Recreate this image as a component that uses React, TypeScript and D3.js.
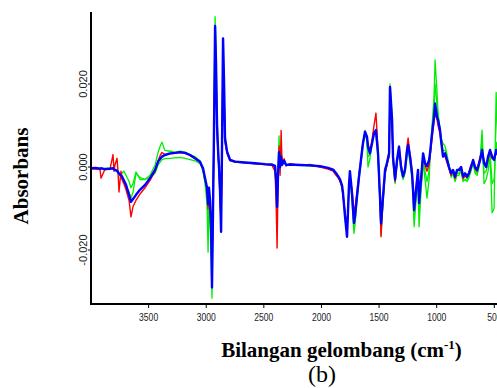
import React from "react";
import * as d3 from "d3";

// wavenumber (cm-1) grid
const wavenumbers = [
  4000, 3960, 3922, 3913, 3880, 3835, 3809, 3800, 3792, 3774,
  3766, 3757, 3740, 3731, 3715, 3696, 3670, 3653, 3635, 3609,
  3575, 3531, 3488, 3444, 3418, 3400, 3384, 3358, 3314, 3271,
  3227, 3184, 3141, 3097, 3054, 3028, 3010, 2993, 2984, 2976,
  2967, 2958, 2950, 2941, 2932, 2923, 2915, 2906, 2897, 2889,
  2880, 2871, 2863, 2854, 2845, 2837, 2819, 2793, 2750, 2663,
  2576, 2490, 2429, 2403, 2394, 2385, 2377, 2368, 2359, 2350,
  2342, 2324, 2307, 2273, 2186, 2099, 2012, 1943, 1899, 1873,
  1856, 1839, 1821, 1813, 1795, 1778, 1761, 1753, 1735, 1718,
  1709, 1692, 1674, 1657, 1640, 1622, 1605, 1596, 1579, 1561,
  1544, 1527, 1509, 1492, 1483, 1466, 1448, 1431, 1413, 1405,
  1387, 1379, 1361, 1344, 1327, 1309, 1292, 1275, 1257, 1248,
  1231, 1214, 1205, 1196, 1179, 1162, 1153, 1136, 1118, 1101,
  1084, 1066, 1058, 1040, 1023, 1014, 997, 988, 971, 962,
  945, 927, 910, 893, 875, 858, 841, 823, 806, 788,
  771, 754, 736, 719, 702, 684, 667, 649, 632, 623,
  606, 589, 571, 554, 537, 519, 502, 484, 467,
];

// absorbance values in units of 0.001
const greenWide = [
  -0.2, -0.3, -0.2, -0.5, -0.3, -0.2, -0.4, -0.5, -0.5, -0.8,
  -1.0, -1.5, -2.0, -2.8, -3.5, -4.5, -6.0, -7.5, -6.0, -1.5,
  -2.5, -3.0, -2.0, 0.5, 3.5, 5.0, 6.0, 4.0, 3.8, 3.6,
  3.8, 3.6, 3.0, 2.5, 1.5, -1.0, -4.0, -9.0, -20.5, -8.0,
  -14.0, -22.0, -31.6, -12.0, 14.0, 36.2, 28.0, 12.0, 5.0, -1.0,
  -8.0, -13.0, 6.0, 28.0, 18.0, 6.0, 3.5, 1.8, 1.4, 1.1,
  0.9, 0.7, 0.5, 0.0, -5.0, -13.0, -1.0, 7.5, -1.0, 4.0,
  1.0, 1.2, 0.4, 0.5, 0.5, 0.3, 0.1, -0.3, -0.8, -1.8,
  -2.5, -3.2, -4.8, -6.5, -11.0, -15.0, -4.5, -2.0, -8.0, -16.0,
  -14.0, -8.0, -3.0, 1.0, 5.0, 8.8, 6.0, 0.0, 2.0, 6.0,
  8.5, 8.0, 2.0, -9.0, -16.4, -9.0, -2.0, 0.5, 4.0, 20.0,
  12.0, 1.0, -4.0, 1.0, 4.0, -1.0, -3.0, -1.5, 3.0, 4.0,
  1.0, -3.0, -8.0, -14.4, -8.0, -3.0, -14.4, -6.0, 1.0, -3.0,
  -7.5, -3.0, 2.0, 10.0, 17.0, 25.8, 18.0, 13.0, 9.0, 7.0,
  5.7, 5.0, 3.0, 0.5, -2.5, -1.5, -3.5, -2.0, -2.0, -1.0,
  -3.5, -3.0, -3.5, -2.5, -1.0, 1.0, -1.5, -2.0, 0.0, 2.0,
  8.9, -4.0, -3.0, -1.0, 3.0, -11.0, -10.0, 18.0, 2.0,
];

const greenMid = [
  -0.4, -0.3, -0.5, -0.4, -0.6, -0.5, -0.4, -0.7, -0.8, -1.0,
  -1.3, -1.8, -2.5, -1.5, -1.0, -2.0, -3.5, -5.0, -4.0, -1.2,
  -3.0, -3.0, -2.5, -1.5, 0.5, 1.2, 1.8, 2.0, 2.1, 2.2,
  2.3, 2.1, 1.8, 1.5, 0.8, -0.8, -3.5, -7.0, -15.0, -7.0,
  -10.0, -18.0, -26.0, -8.0, 12.0, 32.0, 23.0, 9.0, 3.0, -0.5,
  -6.5, -14.5, 4.0, 29.0, 19.0, 6.5, 3.5, 1.6, 1.2, 1.0,
  0.8, 0.6, 0.5, 0.2, -4.0, -11.0, -3.0, 5.0, 1.0, 3.0,
  0.6, 1.2, 0.5, 0.5, 0.4, 0.3, 0.1, -0.3, -0.8, -1.6,
  -2.3, -3.1, -4.6, -6.5, -12.5, -16.0, -5.0, -1.5, -7.0, -14.0,
  -12.5, -7.5, -2.5, 1.5, 5.5, 8.0, 6.5, 2.5, 3.0, 6.0,
  8.5, 8.5, 3.0, -8.0, -15.0, -8.0, -1.0, 1.0, 3.5, 18.0,
  11.0, 2.0, -3.5, 1.5, 4.5, -0.5, -2.5, -1.0, 3.5, 4.5,
  2.0, -2.0, -6.5, -12.0, -7.0, -2.0, -11.0, -4.5, 2.0, -1.0,
  -3.5, -1.0, 2.5, 9.0, 14.0, 20.0, 15.0, 12.0, 9.0, 7.0,
  4.0, 4.0, 2.0, 0.0, -2.0, -1.0, -3.0, -1.5, -1.5, -0.5,
  -3.0, -2.0, -3.0, -2.0, -0.5, 1.5, -1.0, -1.5, 0.5, 1.5,
  6.0, -1.5, -1.0, 1.0, 3.5, -4.0, -3.0, 6.0, 2.5,
];

const redSeries = [
  -0.4, -0.5, -0.6, -2.7, -0.6, -0.5, 3.0, -1.0, 0.5, 2.1,
  -1.0, -6.0, -1.0, -3.0, -4.0, -5.5, -8.0, -12.0, -9.5, -8.0,
  -6.5, -5.0, -3.2, -1.0, 1.5, 2.8, 3.5, 3.0, 3.2, 3.3,
  3.5, 3.3, 2.8, 2.0, 1.2, -0.5, -3.0, -5.5, -10.0, -6.0,
  -9.0, -16.0, -25.0, -9.0, 8.0, 30.0, 22.0, 8.0, 3.0, -1.0,
  -7.0, -14.0, 3.0, 27.0, 18.0, 6.0, 3.2, 1.5, 1.2, 1.0,
  0.8, 0.6, 0.4, -1.0, -8.0, -19.5, -4.0, 5.0, -2.0, 8.8,
  1.0, 2.0, 0.3, 0.8, 0.4, 0.6, 0.0, -0.5, -1.0, -2.0,
  -2.5, -3.5, -5.0, -7.0, -11.0, -15.0, -5.0, -2.0, -5.5, -10.4,
  -10.0, -6.0, -1.5, 2.0, 6.0, 8.0, 7.0, 5.5, 4.0, 6.5,
  10.0, 13.0, 4.0, -8.0, -16.8, -8.0, -1.5, 0.5, 2.5, 17.0,
  10.0, 2.0, -3.5, 1.0, 5.0, 0.5, -2.0, -0.5, 5.0, 7.0,
  3.0, -1.0, -4.5, -9.0, -5.0, -1.0, -8.0, -2.5, 3.0, 0.5,
  -1.0, 0.5, 2.5, 7.0, 11.0, 13.0, 11.5, 10.0, 8.0, 6.0,
  3.0, 2.5, 1.0, -0.5, -2.0, -1.0, -2.8, -1.0, -0.5, -0.5,
  -2.8, -2.0, -2.5, -1.0, 0.5, 1.5, -0.5, -1.0, 1.5, 2.5,
  3.5, 1.5, 0.5, 2.0, 3.5, 2.0, 2.0, 3.5, 2.5,
];

const blueSeries = [
  -0.3, -0.2, -0.4, -0.3, -0.5, -0.4, -0.3, -0.6, -0.7, -0.9,
  -1.2, -1.6, -2.0, -2.3, -3.2, -4.3, -6.7, -8.4, -7.7, -6.7,
  -5.5, -4.3, -2.7, -0.7, 1.3, 2.0, 2.5, 2.9, 3.3, 3.4,
  3.6, 3.4, 2.9, 2.1, 1.3, -0.3, -2.7, -5.0, -9.0, -5.0,
  -8.0, -14.0, -29.0, -10.0, 10.0, 34.0, 25.0, 10.0, 4.0, 0.0,
  -6.0, -15.6, 5.0, 31.0, 20.0, 7.0, 3.7, 1.7, 1.3, 1.1,
  0.9, 0.7, 0.6, 0.3, -3.0, -9.6, -2.0, 3.6, 0.0, 2.5,
  0.5, 1.5, 0.5, 0.6, 0.5, 0.4, 0.2, -0.2, -0.6, -1.5,
  -2.2, -3.0, -4.5, -6.3, -12.0, -16.8, -4.3, -1.0, -6.3, -13.5,
  -12.0, -7.2, -2.3, 1.7, 5.7, 8.5, 7.3, 4.9, 3.3, 5.7,
  8.1, 8.9, 3.3, -7.2, -13.6, -7.2, -0.7, 1.0, 3.3, 19.3,
  11.3, 2.5, -3.0, 1.7, 4.9, 0.0, -2.3, -0.7, 4.1, 5.3,
  2.5, -1.5, -5.5, -10.4, -5.5, -0.7, -8.7, -3.0, 3.3, 0.9,
  0.2, 1.7, 3.3, 8.1, 12.1, 15.3, 12.1, 11.3, 8.9, 6.5,
  2.5, 3.3, 1.7, 0.0, -1.5, -0.7, -2.3, -0.7, -0.7, 0.0,
  -2.3, -1.5, -2.3, -1.5, 0.0, 1.7, 0.0, -0.7, 0.9, 1.7,
  4.1, 0.9, 0.0, 2.5, 4.1, 2.5, 1.7, 4.1, 3.0,
];

const xTicks = [3500, 3000, 2500, 2000, 1500, 1000, 500];
const yTicks = [20, 0, -20];

const series = [
  { name: "green-wide", values: greenWide, color: "#00ee00", width: 1.3 },
  { name: "green-mid", values: greenMid, color: "#00ee00", width: 1.3 },
  { name: "red", values: redSeries, color: "#ff0000", width: 1.4 },
  { name: "blue", values: blueSeries, color: "#0000ff", width: 2.4 },
];

export default function App() {
  const width = 497;
  const height = 388;
  const left = 91;
  const top = 12;
  const bottom = 304;

  const x = d3.scaleLinear().domain([4000, 500]).range([left, 494.3]);
  const y = d3.scaleLinear().domain([-33, 37.35]).range([bottom, top]);

  const line = d3
    .line<number>()
    .x((_, i) => x(wavenumbers[i]))
    .y((d) => y(d));

  return (
    <svg
      width={width}
      height={height}
      style={{ position: "absolute", left: 0, top: 0, background: "#fff" }}
    >
      <defs>
        <clipPath id="plot">
          <rect x={left} y={0} width={width - left} height={bottom} />
        </clipPath>
      </defs>

      <g clipPath="url(#plot)" fill="none" strokeLinejoin="round">
        {series.map((s) => (
          <path key={s.name} d={line(s.values) || ""} stroke={s.color} strokeWidth={s.width} />
        ))}
      </g>

      {/* axes */}
      <line x1={left} x2={left} y1={top} y2={bottom + 1} stroke="#000" strokeWidth={2} />
      <line x1={left - 1} x2={width} y1={bottom} y2={bottom} stroke="#000" strokeWidth={2} />

      {xTicks.map((t) => (
        <g key={t} transform={`translate(${x(t)},${bottom})`}>
          <line y1={0} y2={4} stroke="#000" strokeWidth={1} />
          <text
            transform="translate(0,17) scale(0.78,1)"
            textAnchor="middle"
            fontFamily="'Liberation Sans', Arial, sans-serif"
            fontSize={11}
            fill="#222"
          >
            {t}
          </text>
        </g>
      ))}

      {yTicks.map((t) => (
        <g key={t} transform={`translate(${left},${y(t)})`}>
          <line x1={0} x2={-3} stroke="#000" strokeWidth={1} />
          <text
            transform="translate(-4,0) rotate(-90)"
            textAnchor="middle"
            fontFamily="'Liberation Sans', Arial, sans-serif"
            fontSize={11}
            fill="#222"
          >
            {(t / 1000).toFixed(3)}
          </text>
        </g>
      ))}

      <text
        transform="translate(28,176) rotate(-90)"
        textAnchor="middle"
        fontFamily="'Liberation Serif', 'Times New Roman', serif"
        fontWeight="bold"
        fontSize={21}
      >
        Absorbans
      </text>

      <text
        x={341.5}
        y={357}
        textAnchor="middle"
        fontFamily="'Liberation Serif', 'Times New Roman', serif"
        fontWeight="bold"
        fontSize={21}
      >
        Bilangan gelombang (cm
        <tspan fontSize={13} dy={-8}>-1</tspan>
        <tspan dy={8}>)</tspan>
      </text>

      <text
        x={322}
        y={382}
        textAnchor="middle"
        fontFamily="'Liberation Serif', 'Times New Roman', serif"
        fontSize={24}
      >
        (b)
      </text>
    </svg>
  );
}
